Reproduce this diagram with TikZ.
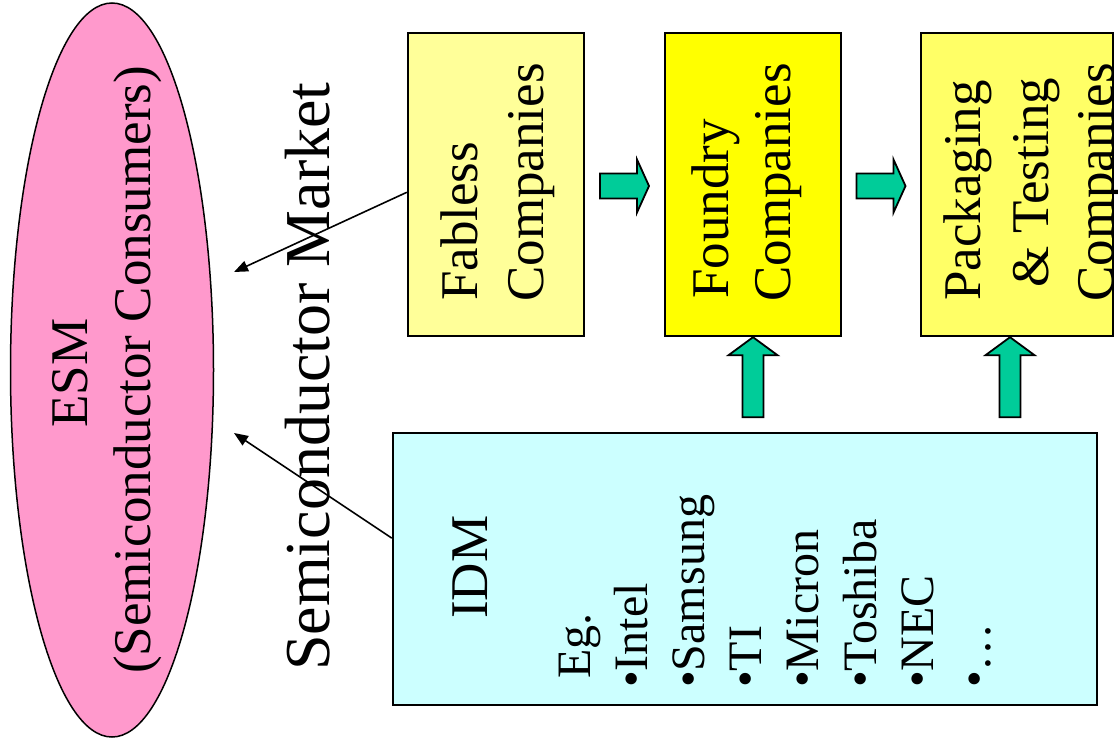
\documentclass[tikz,border=0pt]{standalone}
\usepackage{fontspec}
\setmainfont{Liberation Serif}
\usetikzlibrary{shapes.geometric,arrows.meta,calc}
\definecolor{esmfill}{HTML}{FF99CC}
\definecolor{fablessfill}{HTML}{FFFF99}
\definecolor{foundryfill}{HTML}{FFFF00}
\definecolor{packfill}{HTML}{FFFF66}
\definecolor{idmfill}{HTML}{CCFFFF}
\definecolor{arrowgreen}{HTML}{00CC99}
\begin{document}
\begin{tikzpicture}[x=1pt,y=-1pt,
  box/.style={draw=black, line width=2.4pt, inner sep=0pt},
  lbl/.style={rotate=90, inner sep=0pt, anchor=base, font=\fontsize{53}{63}\selectfont},
  boxline/.style={lbl, anchor=base west},
  item/.style={rotate=90, inner sep=0pt, anchor=base west, font=\fontsize{48}{57}\selectfont},
  link/.style={line width=1.6pt, -{Triangle[length=14pt,width=11pt]}},
  blockarrow/.style={fill=arrowgreen, draw=black, line width=1.8pt, line join=miter},
  rblock/.pic={\draw[blockarrow] (-24.5,-12.5) -- (12.5,-12.5) -- (12.5,-26.5) -- (24.5,0)
      -- (12.5,26.5) -- (12.5,12.5) -- (-24.5,12.5) -- cycle;},
  ublock/.pic={\draw[blockarrow] (0,0) -- (24.5,18) -- (10.5,18) -- (10.5,80)
      -- (-10.5,80) -- (-10.5,18) -- (-24.5,18) -- cycle;}]
\useasboundingbox (0,0) rectangle (1118,750);
\fill[white] (0,0) rectangle (1118,750);

% consumers
\node[ellipse, draw=black, line width=1.5pt, fill=esmfill, inner sep=0pt,
      minimum width=203pt, minimum height=734pt] (esm) at (112,370) {};
\node[lbl] (esm1) at (87,373) {ESM};
\node[lbl] (esm2) at (150,370) {(Semiconductor Consumers)};

% market label
\node[lbl, anchor=base west, font=\fontsize{64}{70}\selectfont] (market) at (329,671) {Semiconductor Market};

% supply chain boxes
\node[box, fill=fablessfill, minimum width=176pt, minimum height=303pt] (fab) at (496,184.5) {};
\node[box, fill=foundryfill, minimum width=176pt, minimum height=303pt] (fnd) at (753,184.5) {};
\node[box, fill=packfill, minimum width=192pt, minimum height=303pt] (pkg) at (1017,184.5) {};
\node[box, fill=idmfill, minimum width=704pt, minimum height=272pt] (idm) at (745,569) {};

\node[boxline] (fab1) at (477,301) {Fabless};
\node[boxline] (fab2) at (543,302) {Companies};
\node[boxline] (fnd1) at (728,299) {Foundry};
\node[boxline] (fnd2) at (790,302) {Companies};
\node[boxline] (pkg1) at (980,301) {Packaging};
\node[boxline] (pkg2) at (1048,288) {\& Testing};
\node[boxline] (pkg3) at (1113,302) {Companies};

% IDM contents
\node[item, font=\fontsize{53}{63}\selectfont] (idmt) at (487,619) {IDM};
\node[item] (eg) at (590,679) {Eg.};
\foreach \name [count=\i] in {Intel,Samsung,TI,Micron,Toshiba,NEC,…}
  \node[item] (co\i) at (590+57.2*\i,688) {•\name};

% flows between companies
\pic at ($(fab.east)!.5!(fnd.west)+(0,1.5)$) {rblock};
\pic at ($(fnd.east)!.5!(pkg.west)+(0,1.5)$) {rblock};
\pic at (fnd.south) {ublock};
\pic at ([xshift=-7pt]pkg.south) {ublock};

% sales to consumers
\coordinate (t1) at (234,272);
\coordinate (t2) at (234,433);
\draw[link] (fab.185.5) -- (t1);
\draw[link] (idm.175.8) -- (t2);
\end{tikzpicture}
\end{document}
